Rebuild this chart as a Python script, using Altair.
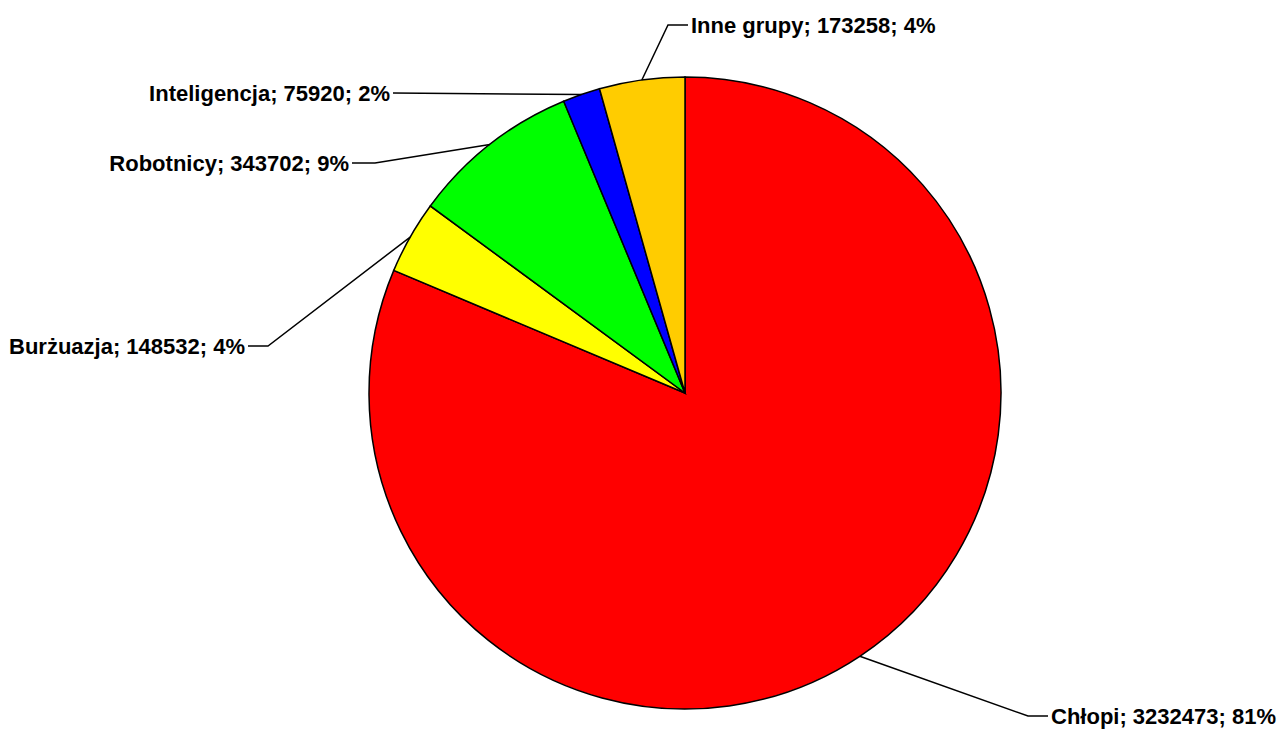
import math
import altair as alt
import pandas as pd

# ---- data ----
categories = ["Chłopi", "Burżuazja", "Robotnicy", "Inteligencja", "Inne grupy"]
values = [3232473, 148532, 343702, 75920, 173258]
colors = ["#FF0000", "#FFFF00", "#00FF00", "#0000FF", "#FFCC00"]

total = sum(values)
percents = [round(v / total * 100) for v in values]
labels = [f"{c}; {v}; {p}%" for c, v, p in zip(categories, values, percents)]

# ---- layout (view units: 1 unit = 1 px, origin at pie centre, y up) ----
W, H = 1272, 722
XDOM = [-677, 595]
YDOM = [385 - H, 385]
R = 316
label_layout = {
    # elbow (x, y), end (x, y), align
    "Chłopi": ((343, -323), (363, -323), "left"),
    "Burżuazja": ((-417, 47), (-437, 47), "right"),
    "Robotnicy": ((-310, 230), (-333, 230), "right"),
    "Inteligencja": ((-292, 300), (-292, 300), "right"),
    "Inne grupy": ((-17, 368), (3, 368), "left"),
}

pie_df = pd.DataFrame({
    "cat": categories, "value": values, "ord": list(range(len(values))),
})

line_rows, text_rows = [], []
cum = 0
for c, v, lab in zip(categories, values, labels):
    mid = (cum + v / 2) / total * 2 * math.pi
    cum += v
    ex, ey = R * math.sin(mid), R * math.cos(mid)
    (bx, by), (tx, ty), align = label_layout[c]
    line_rows += [
        {"cat": c, "i": 0, "x": ex, "y": ey},
        {"cat": c, "i": 1, "x": bx, "y": by},
        {"cat": c, "i": 2, "x": tx, "y": ty},
    ]
    off = 3 if align == "left" else -3
    text_rows.append({"cat": c, "label": lab, "x": tx + off, "y": ty, "align": align})

line_df = pd.DataFrame(line_rows)
text_df = pd.DataFrame(text_rows)

xs = alt.Scale(domain=XDOM, nice=False, zero=False)
ys = alt.Scale(domain=YDOM, nice=False, zero=False)

pie = alt.Chart(pie_df).mark_arc(outerRadius=R, stroke="black", strokeWidth=1.5).encode(
    x=alt.X(datum=0, scale=xs, axis=None),
    y=alt.Y(datum=0, scale=ys, axis=None),
    theta=alt.Theta("value:Q", stack=True),
    order=alt.Order("ord:Q", sort="ascending"),
    color=alt.Color("cat:N", scale=alt.Scale(domain=categories, range=colors), legend=None),
)

lines = alt.Chart(line_df).mark_line(color="black", strokeWidth=1.5).encode(
    x=alt.X("x:Q", scale=xs, axis=None),
    y=alt.Y("y:Q", scale=ys, axis=None),
    detail="cat:N",
    order="i:Q",
)

text_style = dict(font="Liberation Sans", fontWeight="bold", fontSize=22,
                  baseline="middle", color="black", dy=1)

left_text = alt.Chart(text_df).transform_filter(alt.datum.align == "left").mark_text(
    align="left", **text_style
).encode(
    x=alt.X("x:Q", scale=xs, axis=None),
    y=alt.Y("y:Q", scale=ys, axis=None),
    text="label:N",
)
right_text = alt.Chart(text_df).transform_filter(alt.datum.align == "right").mark_text(
    align="right", **text_style
).encode(
    x=alt.X("x:Q", scale=xs, axis=None),
    y=alt.Y("y:Q", scale=ys, axis=None),
    text="label:N",
)

chart = alt.layer(pie, lines, left_text, right_text).properties(
    width=W, height=H, padding=0, autosize=alt.AutoSizeParams(type="none"),
).configure_view(stroke=None)

chart.save("out.html", embed_options={"renderer": "svg", "actions": False})
